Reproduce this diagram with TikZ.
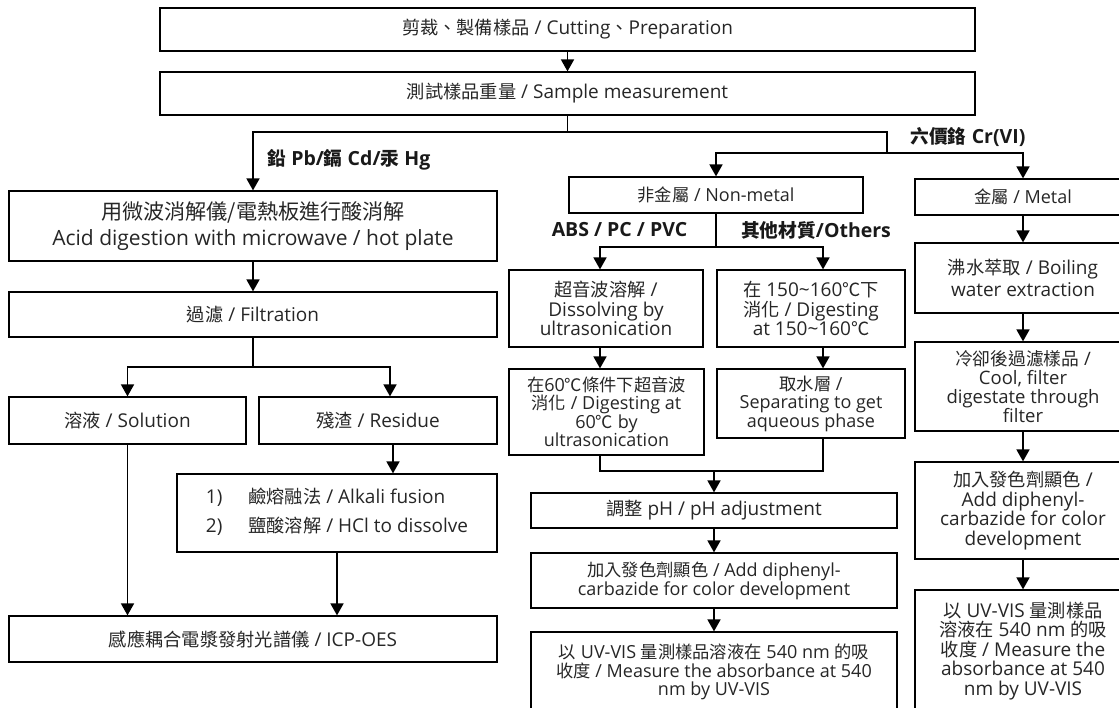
\documentclass[tikz,border=0pt]{standalone}
\usepackage{fontspec}
\setmainfont{Open Sans}
\newfontfamily\zhfont[Scale=0.96]{Noto Sans CJK TC}
\newcommand{\zh}[1]{{\zhfont #1}}
\newcommand{\degc}{\zh{℃}}
\newcommand{\tld}{\textasciitilde}
\usetikzlibrary{arrows.meta}
\tikzset {
  % process boxes
  proc/.style={draw, line width=1.2pt, inner sep=2pt, align=center, text=black!85,
    font=\fontsize{19}{19.5}\selectfont},
  % arrows from step to step
  flow/.style={line width=1.7pt, line cap=rect, -{Triangle[width=13pt,length=12pt]}},
  % plain joining lines
  link/.style={line width=1.1pt, line cap=rect},
  % bold captions on the branches
  branch/.style={text=black!90, font=\bfseries\fontsize{19.5}{21}\selectfont},
}

\begin{document}
\begin{tikzpicture}[x=1pt, y=-1pt]
  \useasboundingbox (0,0) rectangle (1119,708);

  % common steps
  \node[proc, minimum width=815pt, minimum height=43pt] (cut) at (567.5,29.5) {\zh{剪裁、製備樣品} / Cutting\zh{、}Preparation};
  \node[proc, minimum width=815pt, minimum height=43pt] (weigh) at (567.5,93.5) {\zh{測試樣品重量} / Sample measurement};

  % Pb / Cd / Hg
  \node[proc, minimum width=488pt, minimum height=70pt, font=\fontsize{21}{26}\selectfont] (acid) at (253,226)
    {{\fontsize{22}{26}\selectfont\zh{用微波消解儀/電熱板進行酸消解}}\\Acid digestion with microwave / hot plate};
  \node[proc, minimum width=488pt, minimum height=45pt] (filt) at (253,314.5) {\zh{過濾} / Filtration};
  \node[proc, minimum width=237pt, minimum height=47pt] (sol) at (127.5,420.5) {\zh{溶液} / Solution};
  \node[proc, minimum width=238pt, minimum height=47pt] (res) at (378,420.5) {\zh{殘渣} / Residue};
  \node[proc, minimum width=320pt, minimum height=78pt] (alk) at (337,513)
    {\begin{tabular}{@{}l@{\hspace{26pt}}l@{}}1) & \zh{鹼熔融法} / Alkali fusion\\[8pt] 2) & \zh{鹽酸溶解} / HCl to dissolve\end{tabular}};
  \node[proc, minimum width=488pt, minimum height=46pt] (icp) at (253,639) {\zh{感應耦合電漿發射光譜儀} / ICP-OES};

  % Cr(VI), non-metal
  \node[proc, minimum width=294pt, minimum height=36pt, font=\fontsize{18}{19}\selectfont] (nonmetal) at (716,195) {\zh{非金屬} / Non-metal};
  \node[proc, minimum width=194pt, minimum height=77pt] (ultra) at (606,308.5) {\zh{超音波溶解} /\\Dissolving by\\ultrasonication};
  \node[proc, minimum width=188pt, minimum height=77pt] (heat) at (811,308.5) {\zh{在} 150\tld160\degc\zh{下}\\\zh{消化} / Digesting\\at 150\tld160\degc};
  \node[proc, minimum width=195pt, minimum height=86pt, font=\fontsize{18}{18.5}\selectfont] (sono) at (606.5,412) {\zh{在}60\degc\zh{條件下超音波}\\\zh{消化} / Digesting at\\60\degc{} by\\ultrasonication};
  \node[proc, minimum width=188pt, minimum height=69pt, font=\fontsize{18}{18.5}\selectfont] (aqua) at (811,403.5) {\zh{取水層} /\\Separating to get\\aqueous phase};
  \node[proc, minimum width=366pt, minimum height=35pt] (ph) at (714,510.5) {\zh{調整} pH / pH adjustment};
  \node[proc, minimum width=366pt, minimum height=55pt, font=\fontsize{18}{18}\selectfont] (color) at (714,580.5) {\zh{加入發色劑顯色} / Add diphenyl-\\carbazide for color development};
  \node[proc, minimum width=366pt, minimum height=80pt, font=\fontsize{18}{18.5}\selectfont] (uv) at (714,672) {\zh{以} UV-VIS \zh{量測樣品溶液在} 540 nm \zh{的吸}\\\zh{收度} / Measure the absorbance at 540\\nm by UV-VIS};

  % Cr(VI), metal
  \node[proc, minimum width=216pt, minimum height=36pt, font=\fontsize{18}{19}\selectfont] (metal) at (1023,197) {\zh{金屬} / Metal};
  \node[proc, minimum width=216pt, minimum height=70pt, font=\fontsize{19}{22}\selectfont] (boil) at (1023,278) {\zh{沸水萃取} / Boiling\\water extraction};
  \node[proc, minimum width=216pt, minimum height=89pt, font=\fontsize{18.5}{19}\selectfont] (cool) at (1023,386.5) {\zh{冷卻後過濾樣品} /\\Cool, filter\\digestate through\\filter};
  \node[proc, minimum width=216pt, minimum height=97pt] (colorr) at (1023,510.5) {\zh{加入發色劑顯色} /\\Add diphenyl-\\carbazide for color\\development};
  \node[proc, minimum width=216pt, minimum height=122pt] (uvr) at (1023,651) {\zh{以} UV-VIS \zh{量測樣品}\\\zh{溶液在} 540 nm \zh{的吸}\\\zh{收度} / Measure the\\absorbance at 540\\nm by UV-VIS};

  % branch captions
  \node[branch, anchor=west] (pbhg) at (264,160) {\zh{鉛} Pb/\zh{鎘} Cd/\zh{汞} Hg};
  \node[branch, anchor=west] (cr6) at (907,137) {\zh{六價鉻} Cr(VI)};
  \node[branch] (abs) at (619.5,230) {ABS / PC / PVC};
  \node[branch] (other) at (816,230) {\zh{其他材質}/Others};

  % joints
  \coordinate (top) at (567.5,132);
  \coordinate (crj) at (887,153);
  \coordinate (fj) at (253,367);
  \coordinate (nj) at (716,247);
  \coordinate (mj) at (714,471);

  \draw [flow] (cut) -- (weigh);
  \draw [link] (weigh) -- (top);
  \draw [flow] (top) -| (acid);
  \draw [link] (top) -| (crj);
  \draw [flow] (crj) -| (nonmetal);
  \draw [flow] (crj) -| (metal);

  \draw [flow] (acid) -- (filt);
  \draw [link] (filt) -- (fj);
  \draw [flow] (fj) -| (sol);
  \draw [flow] (fj) -| ([xshift=12pt]res.north);
  \draw [flow] ([xshift=15pt]res.south) -- ([xshift=15pt]res.south |- alk.north);
  \draw [flow] (sol.south) -- (sol.south |- icp.north);
  \draw [flow] (alk.south) -- (alk.south |- icp.north);

  \draw [link] (nonmetal) -- (nj);
  \draw [flow] (nj) -| ([xshift=-6pt]ultra.north);
  \draw [flow] (nj) -| ([xshift=12pt]heat.north);
  \draw [flow] ([xshift=-6pt]ultra.south) -- ([xshift=-6pt]ultra.south |- sono.north);
  \draw [flow] ([xshift=12pt]heat.south) -- ([xshift=12pt]heat.south |- aqua.north);
  \draw [link] ([xshift=-6.5pt]sono.south) |- (mj) -| ([xshift=12pt]aqua.south);
  \draw [flow] (mj) -- (ph);
  \draw [flow] (ph) -- (color);
  \draw [flow] (color) -- (uv);

  \draw [flow] (metal) -- (boil);
  \draw [flow] (boil) -- (cool);
  \draw [flow] (cool) -- (colorr);
  \draw [flow] (colorr) -- (uvr);
\end{tikzpicture}
\end{document}
